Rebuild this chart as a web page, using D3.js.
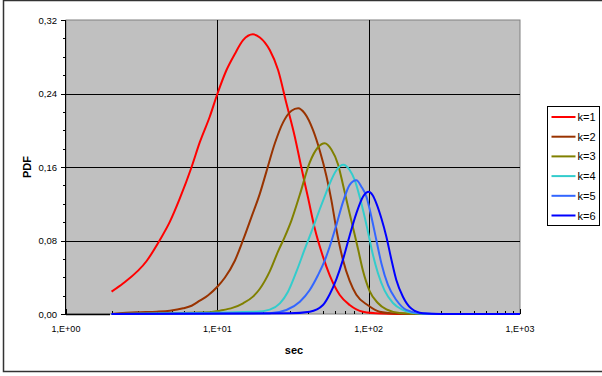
<!DOCTYPE html>
<html>
<head>
<meta charset="UTF-8">
<title>PDF k</title>
<style>
    body { margin: 0; background: #fff; }
    svg { display: block; font-family: "Liberation Sans", Arial, sans-serif; }
</style>
</head>
<body>
<svg></svg>
<script src="https://d3js.org/d3.v7.min.js"></script>
<script>
    let width = 602, height = 376

    // data: [sec, pdf]
    const k1 = [[2,0.0243],[2.39,0.0334],[3.41,0.0577],[4.17,0.0805],[4.86,0.1005],[5.66,0.126],[6.76,0.160],[7.66,0.187],[8.92,0.215],[10,0.2395],[11.5,0.2656],[13.05,0.283],[14.8,0.298],[17.2,0.3044],[19.1,0.301],[22.2,0.2873],[25.2,0.2656],[28.6,0.2293],[32.5,0.193],[36,0.1586],[39.7,0.127],[44,0.0933],[49.9,0.0624],[55.3,0.042],[64.4,0.0207],[74.9,0.0098],[91.7,0.0025],[120,0.0006],[200,0],[1000,0]]
    const k2 = [[2,0],[2.93,0.0018],[3.97,0.0025],[4.86,0.0036],[5.95,0.0062],[6.76,0.009],[7.66,0.0145],[8.7,0.0205],[10,0.0297],[11.2,0.0395],[13.05,0.058],[14.8,0.0806],[16.8,0.1055],[19.1,0.131],[21.1,0.155],[24,0.1858],[27.2,0.2086],[30.9,0.2213],[34.2,0.224],[37.8,0.2184],[42.9,0.2002],[47.5,0.178],[52.6,0.150],[56.7,0.124],[61.2,0.092],[67.6,0.059],[74.9,0.036],[82.9,0.021],[98.9,0.0095],[118,0.0025],[150,0.0005],[200,0],[1000,0]]
    const k3 = [[2,0],[8.92,0.0019],[10.4,0.0036],[12.7,0.0069],[14.8,0.0117],[17.2,0.0189],[19.1,0.0275],[22.2,0.0464],[25.2,0.0682],[27.9,0.0840],[30.9,0.1020],[35.1,0.130],[40.8,0.165],[46.3,0.1815],[51.2,0.1858],[56.7,0.179],[62.7,0.163],[67.6,0.141],[73,0.117],[78.8,0.094],[85,0.071],[91.7,0.047],[101.5,0.025],[115,0.012],[131,0.005],[160,0.0012],[230,0],[1000,0]]
    const k4 = [[2,0],[18.1,0.0025],[22.2,0.0048],[25.9,0.0116],[29.3,0.0243],[33.3,0.0461],[37.8,0.0705],[41.9,0.0896],[47.5,0.1140],[52.6,0.1330],[55.3,0.1420],[61.2,0.1565],[68,0.1625],[74.9,0.1568],[80.8,0.146],[87.2,0.1277],[94.1,0.1056],[98.9,0.0896],[106.8,0.0642],[115.2,0.0443],[127.5,0.0255],[144.7,0.0120],[168.4,0.0044],[206.5,0.0008],[260,0],[1000,0]]
    const k5 = [[2,0],[22.2,0.0008],[28.6,0.0044],[35.1,0.0134],[40.8,0.0261],[46.3,0.0424],[51.2,0.0580],[55.3,0.0735],[61.2,0.097],[67.7,0.122],[74.9,0.1405],[82.9,0.1455],[89.5,0.1386],[96.6,0.1277],[104.2,0.1059],[112.4,0.0805],[121.3,0.0552],[134.1,0.0316],[152.3,0.0152],[177.4,0.0044],[216,0.0008],[280,0],[1000,0]]
    const k6 = [[2,0],[30.1,0.0008],[40.8,0.0025],[49.9,0.0098],[55.3,0.0215],[61.2,0.038],[67.7,0.0595],[74.9,0.0855],[82.9,0.1096],[91.7,0.1277],[100.5,0.1331],[106,0.1295],[112.4,0.1205],[121.3,0.1042],[130.9,0.0841],[141.5,0.0588],[152.3,0.037],[168.4,0.0188],[190.5,0.0062],[228,0.0008],[300,0],[1000,0]]

    const seriesNames = ["k=1", "k=2", "k=3", "k=4", "k=5", "k=6"]
    const seriesData = [k1, k2, k3, k4, k5, k6]
    const colors = ["#ff0000", "#993300", "#808000", "#33cccc", "#3366ff", "#0000ff"]

    const xTicks = [1, 10, 100, 1000]
    const xTickLabels = ["1,E+00", "1,E+01", "1,E+02", "1,E+03"]
    const yTicks = [0, 0.08, 0.16, 0.24, 0.32]

    let svg = d3.select("svg")
        .attr("width", width)
        .attr("height", height)

    // outer chart border
    svg.append("rect")
        .attr("x", 3.5).attr("y", 0.5)
        .attr("width", 640).attr("height", 371)
        .attr("fill", "white")
        .attr("stroke", "#333")
        .attr("stroke-width", 1.5)

    let x = d3.scaleLog().domain([1, 1000]).range([66, 520])
    let y = d3.scaleLinear().domain([0, 0.32]).range([314, 20])
    const px = v => Math.round(v) + 0.5

    // plot area
    svg.append("rect")
        .attr("x", 66).attr("y", 20)
        .attr("width", 454).attr("height", 294)
        .attr("fill", "#c0c0c0")
        .attr("stroke", "#808080")

    // gridlines
    let grid = svg.append("g").attr("stroke", "#000").attr("stroke-width", 1)
    grid.selectAll("line.h")
        .data(yTicks.slice(1, -1))
        .enter().append("line")
        .attr("x1", 66).attr("x2", 520)
        .attr("y1", d => px(y(d))).attr("y2", d => px(y(d)))
    grid.selectAll("line.v")
        .data([10, 100])
        .enter().append("line")
        .attr("x1", d => px(x(d))).attr("x2", d => px(x(d)))
        .attr("y1", 20).attr("y2", 314)

    // y axis
    let yAxis = svg.append("g")
    yAxis.append("line")
        .attr("x1", 65.5).attr("x2", 65.5).attr("y1", 20).attr("y2", 314)
        .attr("stroke", "#000")
    yAxis.selectAll("line.minor")
        .data(d3.range(0, 0.3201, 0.02))
        .enter().append("line")
        .attr("x1", 63).attr("x2", 66)
        .attr("y1", d => px(y(d))).attr("y2", d => px(y(d)))
        .attr("stroke", "#000")
    yAxis.selectAll("line.major")
        .data(yTicks)
        .enter().append("line")
        .attr("x1", 61).attr("x2", 66)
        .attr("y1", d => px(y(d))).attr("y2", d => px(y(d)))
        .attr("stroke", "#000")
    yAxis.selectAll("text")
        .data(yTicks)
        .enter().append("text")
        .attr("x", 57)
        .attr("y", d => y(d) + 3.5)
        .attr("text-anchor", "end")
        .attr("font-size", "9.5px")
        .text(d => d3.format(".2f")(d).replace(".", ","))

    // x axis
    let xAxis = svg.append("g")
    let minor = []
    for (let dec of [1, 10, 100]) for (let m = 2; m <= 9; m++) minor.push(dec * m)
    xAxis.selectAll("line.minor")
        .data(minor)
        .enter().append("line")
        .attr("x1", d => px(x(d))).attr("x2", d => px(x(d)))
        .attr("y1", 311).attr("y2", 314)
        .attr("stroke", "#000")
    xAxis.selectAll("line.major")
        .data(xTicks)
        .enter().append("line")
        .attr("x1", d => px(x(d))).attr("x2", d => px(x(d)))
        .attr("y1", 309).attr("y2", 314)
        .attr("stroke", "#000")
    xAxis.selectAll("text")
        .data(xTicks)
        .enter().append("text")
        .attr("x", d => x(d))
        .attr("y", 332)
        .attr("text-anchor", "middle")
        .attr("font-size", "9px")
        .text((d, i) => xTickLabels[i])

    // curves
    let line = d3.line()
        .x(d => x(d[0]))
        .y(d => y(d[1]))
        .curve(d3.curveMonotoneX)

    svg.append("g")
        .selectAll("path")
        .data(seriesData)
        .enter().append("path")
        .attr("d", line)
        .attr("fill", "none")
        .attr("stroke", (d, i) => colors[i])
        .attr("stroke-width", 2)
        .attr("stroke-linejoin", "round")

    // x axis line left of where the curves start
    svg.append("line")
        .attr("x1", 66).attr("x2", 110).attr("y1", 314.5).attr("y2", 314.5)
        .attr("stroke", "#000").attr("stroke-width", 1.5)

    // axis titles
    svg.append("text")
        .attr("x", 294).attr("y", 354)
        .attr("text-anchor", "middle")
        .attr("font-size", "11px").attr("font-weight", "bold")
        .text("sec")
    svg.append("text")
        .attr("transform", "translate(31,167) rotate(-90)")
        .attr("text-anchor", "middle")
        .attr("font-size", "11px").attr("font-weight", "bold")
        .text("PDF")

    // Legend
    let legend = svg.append("g")
    legend.append("rect")
        .attr("x", 547.5).attr("y", 106.5)
        .attr("width", 52).attr("height", 119)
        .attr("fill", "white")
        .attr("stroke", "#000")
    let item = legend.selectAll("g.item")
        .data(seriesNames)
        .enter().append("g")
        .attr("class", "item")
        .attr("transform", (d, i) => "translate(0," + (117 + i * 19.7) + ")")
    item.append("line")
        .attr("x1", 551.5).attr("x2", 575.5)
        .attr("stroke", (d, i) => colors[i])
        .attr("stroke-width", 2)
    item.append("text")
        .attr("x", 577.5).attr("y", 4)
        .attr("font-size", "11px")
        .text(d => d)
</script>
</body>
</html>
